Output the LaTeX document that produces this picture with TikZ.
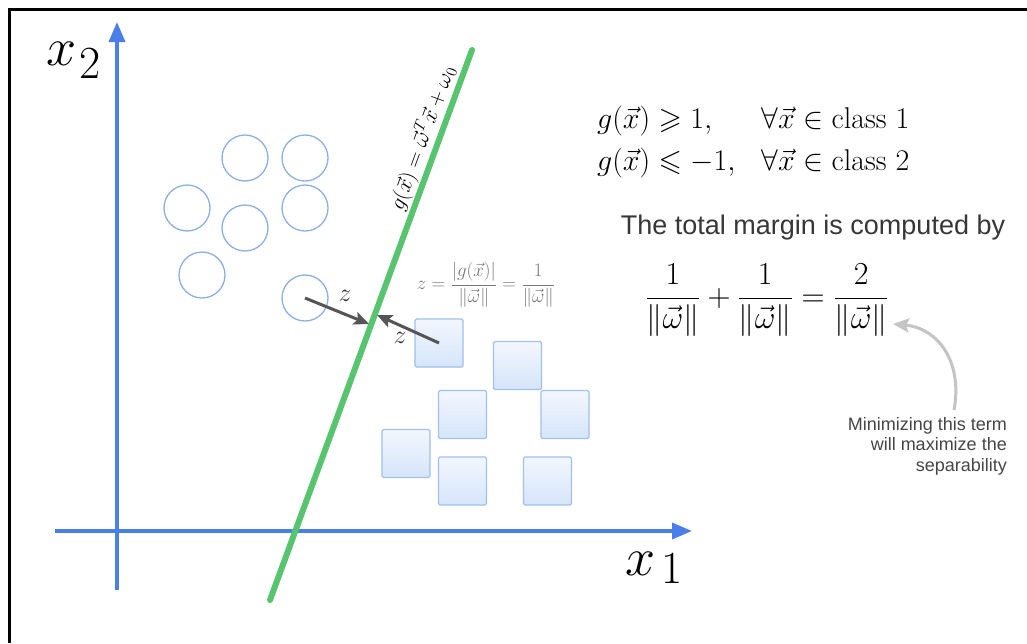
\RequirePackage{fix-cm}
\documentclass[tikz,border=0pt]{standalone}
\usepackage{amsmath,amssymb}
\usepackage{fontspec}
\newfontfamily\sansfam{Liberation Sans}
\usetikzlibrary{arrows.meta,calc}
\definecolor{axisblue}{RGB}{74,126,232}
\definecolor{sepgreen}{RGB}{88,196,112}
\definecolor{circblue}{RGB}{140,176,228}
\definecolor{sqborder}{RGB}{160,192,238}
\definecolor{sqtop}{RGB}{242,247,254}
\definecolor{sqbot}{RGB}{214,229,250}
\definecolor{arrgray}{RGB}{85,85,85}
\definecolor{lightarr}{RGB}{196,196,196}
\definecolor{formgray}{RGB}{120,120,120}
\definecolor{txtdark}{RGB}{55,55,55}
\definecolor{notegray}{RGB}{70,70,70}
\tikzset{
  axis/.style={draw=axisblue, line width=3.5pt, -{Triangle[length=20pt,width=16pt]}},
  sepline/.style={draw=sepgreen, line width=6pt, line cap=round},
  dot/.style={circle, draw=circblue, line width=1.3pt, minimum size=46pt, inner sep=0pt},
  sq/.style={rectangle, rounded corners=1.5pt, draw=sqborder, line width=1.3pt, minimum size=48pt, inner sep=0pt, top color=sqtop, bottom color=sqbot},
  zarrow/.style={draw=arrgray, line width=3pt, -{Stealth[length=15pt,width=13pt,inset=3pt]}},
  zlab/.style={font=\fontsize{26}{30}\selectfont, text=black!80},
  curvarrow/.style={draw=lightarr, line width=3pt, -{Stealth[length=16pt,width=14pt,inset=3pt]}}
}
\begin{document}
\begin{tikzpicture}[x=1pt,y=-1pt]
\useasboundingbox (0,0) rectangle (1027,643);
\fill[white] (0,0) rectangle (1027,643);
\draw[line width=3pt, black] (1027,9.5) -- (9.5,9.5) -- (9.5,643);

% axes
\coordinate (yb) at (117,590);
\coordinate (yt) at (117,22);
\coordinate (xl) at (55,531);
\coordinate (xr) at (692,531);
\draw[axis] (yb) -- (yt);
\draw[axis] (xl) -- (xr);
\node[anchor=base west, inner sep=0pt] (x2lab) at (46,65)
  {{\fontsize{54}{60}\selectfont$x$}\hspace{3pt}\raisebox{-13pt}{\fontsize{46}{46}\selectfont 2}};
\node[anchor=base west, inner sep=0pt] (x1lab) at (625,575)
  {{\fontsize{54}{60}\selectfont$x$}\hspace{6pt}\raisebox{-8pt}{\fontsize{46}{46}\selectfont 1}};

% separating line
\coordinate (gb) at (270,600);
\coordinate (gt) at (472,50);
\draw[sepline] (gb) -- (gt);
\node[rotate=69.8, anchor=south, inner sep=4pt, font=\fontsize{22}{26}\selectfont] (glab)
  at ($(gb)!0.83!(gt)$) {$g(\vec{x})=\vec{\omega}^T\vec{x}+\omega_0$};

% class 1 circles
\node[dot] (c1) at (245,158) {};
\node[dot] (c2) at (305,158) {};
\node[dot] (c3) at (187,208) {};
\node[dot] (c4) at (245,228) {};
\node[dot] (c5) at (305,208) {};
\node[dot] (c6) at (202,275) {};
\node[dot] (c7) at (305,298) {};

% class 2 squares
\node[sq] (s1) at (439,343) {};
\node[sq] (s2) at (517.5,365.5) {};
\node[sq] (s3) at (462.5,414.5) {};
\node[sq] (s4) at (565,414.5) {};
\node[sq] (s5) at (406,453.5) {};
\node[sq] (s6) at (462.5,481) {};
\node[sq] (s7) at (547.5,481) {};

% margin arrows
\coordinate (m1) at (369,324);
\coordinate (m2) at (377,315);
\draw[zarrow] (c7.center) -- (m1);
\draw[zarrow] (s1.center) -- (m2);
\node[zlab] (z1) at (345,296) {$z$};
\node[zlab] (z2) at (400,338) {$z$};
\node[font=\fontsize{19}{22}\selectfont, text=formgray] (zf) at (486,285)
  {$z=\dfrac{|g(\vec{x})|}{\|\vec{\omega}\|}=\dfrac{1}{\|\vec{\omega}\|}$};

% right side
\node[anchor=west, inner sep=0pt, font=\fontsize{30}{42}\selectfont] (cond) at (597,141)
  {$\begin{array}{@{}l@{\hspace{26pt}}l@{}}
    g(\vec{x})\geqslant 1, & \forall\vec{x}\in\mathrm{class}\ 1\\
    g(\vec{x})\leqslant -1, & \forall\vec{x}\in\mathrm{class}\ 2
  \end{array}$};
\node[font=\sansfam\fontsize{27}{32}\selectfont, text=txtdark] (mt) at (813,228)
  {The total margin is computed by};
\node[font=\fontsize{32}{36}\selectfont] (eq) at (767,300)
  {$\displaystyle\frac{1}{\|\vec{\omega}\|}+\frac{1}{\|\vec{\omega}\|}=\frac{2}{\|\vec{\omega}\|}$};
\node[anchor=north east, align=right, inner sep=0pt, font=\sansfam\fontsize{18}{20.5}\selectfont, text=notegray] (note)
  at (1007,417) {Minimizing this term\\will maximize the\\separability};
\coordinate (cs) at (954,410);
\coordinate (ce) at (893,324);
\draw[curvarrow] (cs) .. controls (963,362) and (938,328) .. (ce);
\end{tikzpicture}
\end{document}
